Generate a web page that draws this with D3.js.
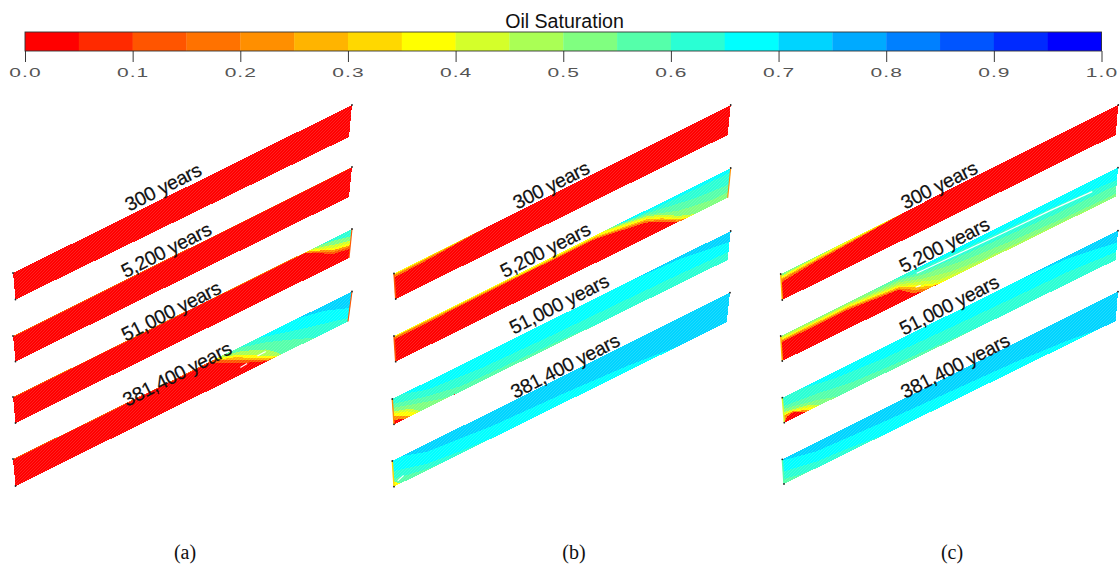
<!DOCTYPE html>
<html><head><meta charset="utf-8">
<style>html,body{margin:0;padding:0;background:#fff}svg{display:block}</style>
<script src="https://cdn.jsdelivr.net/npm/d3@7"></script></head><body>
<svg id="c" width="1120" height="566"></svg>
<script>
const legendTitle = "Oil Saturation";
const bandColors = ["#ff0000","#ff2a00","#ff5500","#ff7200","#ff8f00","#ffb400","#ffd800","#ffff00","#d4ff2a","#aaff55","#80ff80","#55ffaa","#2affd4","#00ffff","#00d4ff","#00aaff","#0080ff","#0055ff","#002aff","#0000ff"];
const legendTicks = [0,0.1,0.2,0.3,0.4,0.5,0.6,0.7,0.8,0.9,1];
const panelNames = ["(a)","(b)","(c)"];
const times = ["300 years","5,200 years","51,000 years","381,400 years"];

// Oil saturation fields: [saturation, [[position along strip, depth across strip], ...]]
const a1 = [[.025,[[0,0],[1,0]]]];
const a2 = [[.125,[[0,0],[1,0]]],[.025,[[0,.03],[1,.02]]]];
const a3 = [[.625,[[0,0],[1,0]]],
 [.525,[[0,0],[.9,0],[.95,.1],[1,.25]]],
 [.425,[[0,0],[.88,0],[.91,.1],[.95,.25],[1,.4]]],
 [.375,[[0,0],[.875,0],[.91,.17],[.95,.36],[1,.48]]],
 [.225,[[0,0],[.865,0],[.91,.22],[.95,.43],[1,.56]]],
 [.125,[[0,0],[.86,.02],[.91,.27],[.95,.5],[1,.62]]],
 [.025,[[0,.03],[.86,.03],[.91,.32],[.95,.58],[1,.68]]]];
const a4 = [[.725,[[0,0],[1,0]]],
 [.675,[[0,0],[.84,0],[.92,.2],[1,.55]]],
 [.625,[[0,0],[.72,0],[.85,.43],[1,.88]]],
 [.575,[[0,0],[.66,0],[.75,.3],[.85,.75],[.9,1],[1,1]]],
 [.475,[[0,0],[.62,0],[.68,.2],[.75,.55],[.78,.8],[.8,1],[1,1]]],
 [.375,[[0,0],[.6,0],[.66,.22],[.72,.58],[.77,.9],[.79,1],[1,1]]],
 [.275,[[0,0],[.59,0],[.66,.3],[.72,.68],[.77,.95],[.785,1],[1,1]]],
 [.125,[[0,0],[.59,0],[.66,.4],[.72,.75],[.77,1],[1,1]]],
 [.025,[[0,.03],[.58,.03],[.66,.5],[.72,.82],[.76,1],[1,1]]]];
const b1 = [[.375,[[0,0],[1,0]]],
 [.275,[[0,.04],[.1,.03],[.2,.01],[.25,0],[1,0]]],
 [.175,[[0,.08],[.12,.06],[.25,0],[1,0]]],
 [.025,[[0,.16],[.1,.12],[.25,.02],[.28,0],[1,0]]]];
const b2 = [[.675,[[0,0],[1,0]]],
 [.625,[[0,0],[.6,0],[.8,.1],[1,.15]]],
 [.575,[[0,0],[.66,0],[.75,.12],[.9,.45],[1,.55]]],
 [.525,[[0,0],[.65,0],[.75,.17],[.85,.6],[.95,.8],[1,.8]]],
 [.425,[[0,0],[.63,0],[.75,.22],[.8,.45],[.85,.78],[.9,1],[1,1]]],
 [.375,[[0,0],[.62,0],[.75,.28],[.8,.53],[.85,.85],[.885,1],[1,1]]],
 [.275,[[0,.03],[.6,.05],[.75,.33],[.8,.58],[.85,.9],[.875,1],[1,1]]],
 [.175,[[0,.06],[.6,.09],[.75,.38],[.8,.64],[.85,.94],[.87,1],[1,1]]],
 [.025,[[0,.14],[.3,.1],[.6,.13],[.75,.44],[.8,.7],[.85,.98],[.86,1],[1,1]]]];
const b3 = [[.725,[[0,0],[1,0]]],
 [.675,[[0,0],[.7,0],[.85,.1],[1,.38]]],
 [.625,[[0,0],[.03,0],[.1,.3],[.26,.5],[.46,.58],[.7,.62],[.85,.65],[1,.72]]],
 [.575,[[0,.2],[.1,.55],[.2,.8],[.3,.85],[.5,.92],[.6,1],[1,1]]],
 [.525,[[0,.35],[.06,.6],[.15,.95],[.18,1],[1,1]]],
 [.425,[[0,.5],[.05,.7],[.08,1],[1,1]]],
 [.375,[[0,.58],[.04,.75],[.07,1],[1,1]]],
 [.225,[[0,.68],[.03,.85],[.05,1],[1,1]]],
 [.025,[[0,.85],[.02,.92],[.035,1],[1,1]]]];
const b4 = [[.725,[[0,0],[1,0]]],
 [.675,[[0,0],[.03,0],[.1,.3],[.3,.55],[.5,.65],[.7,.8],[.85,1],[1,1]]],
 [.625,[[0,.4],[.1,.75],[.2,.9],[.3,1],[1,1]]],
 [.575,[[0,.7],[.1,.95],[.15,1],[1,1]]],
 [.375,[[0,.8],[.02,1],[1,1]]]];
const c1 = [[.525,[[0,0],[1,0]]],
 [.425,[[0,.08],[.1,.03],[.2,0],[1,0]]],
 [.375,[[0,.12],[.1,.07],[.2,.03],[.3,0],[1,0]]],
 [.275,[[0,.18],[.1,.11],[.2,.07],[.33,.01],[.36,0],[1,0]]],
 [.175,[[0,.22],[.1,.15],[.2,.1],[.35,.02],[.38,0],[1,0]]],
 [.025,[[0,.32],[.1,.2],[.2,.14],[.38,0],[1,0]]]];
const c2 = [[.675,[[0,0],[1,0]]],
 [.625,[[0,0],[.38,0],[.45,.1],[.6,.18],[.8,.25],[.93,.35],[1,.42]]],
 [.575,[[0,0],[.33,0],[.42,.25],[.6,.42],[.8,.55],[1,.6]]],
 [.525,[[0,0],[.25,0],[.35,.12],[.42,.35],[.55,.6],[.7,.75],[.85,.85],[1,.9]]],
 [.475,[[0,.03],[.2,.04],[.35,.2],[.42,.5],[.5,.75],[.6,.9],[.8,.95],[1,1]]],
 [.425,[[0,.07],[.2,.08],[.35,.28],[.42,.6],[.47,.85],[.55,.95],[.7,1],[1,1]]],
 [.375,[[0,.11],[.2,.13],[.35,.33],[.41,.68],[.46,.92],[.5,1],[1,1]]],
 [.275,[[0,.15],[.2,.18],[.35,.38],[.41,.75],[.45,.95],[.47,1],[1,1]]],
 [.175,[[0,.2],[.2,.22],[.35,.43],[.4,.8],[.44,.98],[.45,1],[1,1]]],
 [.025,[[0,.26],[.2,.28],[.35,.48],[.39,.85],[.42,1],[1,1]]]];
const c3 = [[.725,[[0,0],[1,0]]],
 [.675,[[0,0],[.7,0],[.85,.1],[1,.4]]],
 [.625,[[0,0],[.05,0],[.15,.25],[.3,.42],[.5,.5],[.7,.55],[.85,.58],[1,.72]]],
 [.575,[[0,.35],[.1,.5],[.2,.72],[.35,.85],[.5,.95],[.6,1],[1,1]]],
 [.525,[[0,.45],[.05,.6],[.1,.75],[.16,1],[1,1]]],
 [.425,[[0,.58],[.04,.68],[.08,.8],[.11,1],[1,1]]],
 [.375,[[0,.65],[.03,.7],[.07,.85],[.095,1],[1,1]]],
 [.225,[[0,.72],[.03,.72],[.06,.9],[.08,1],[1,1]]],
 [.025,[[0,.98],[.01,.82],[.03,.75],[.05,.9],[.065,1],[1,1]]]];
const c4 = [[.725,[[0,0],[1,0]]],
 [.675,[[0,.05],[.1,.35],[.3,.5],[.5,.6],[.7,.7],[.85,.85],[.95,1],[1,1]]],
 [.625,[[0,.5],[.1,.75],[.2,.85],[.3,1],[1,1]]],
 [.575,[[0,.8],[.05,.95],[.1,1],[1,1]]]];

const fields = [a1,a2,a3,a4,b1,b2,b3,b4,c1,c2,c3,c4];
// end-cell saturation on the left / right edge of each strip
const leftEdge  = [null,null,null,null,.125,.125,.225,.325,.275,.275,.425,.575];
const rightEdge = [null,null,.125,.125,null,.225,null,null,null,null,null,null];
// strip corners: top-left, top-right, bottom-right, bottom-left
const corners = [
 [[13,273],[352,105],[349,137],[15.5,299.5]],
 [[13,336],[352,167],[349,197],[15.5,361.5]],
 [[13,397],[352,229],[349,258],[15.5,423]],
 [[13,459],[352,291.5],[348,321.5],[15.5,486]],
 [[394,273.5],[730.7,105],[727.7,135],[395.7,299]],
 [[394,336],[730.7,168],[727.7,197.7],[395.7,361.7]],
 [[392.3,399],[730.7,231],[727.7,260],[394,424.3]],
 [[392.3,461],[730,292.7],[726.7,322.3],[394,486.7]],
 [[780.7,274],[1118.3,105],[1115.7,135],[782.3,300]],
 [[780.7,336],[1118,167.7],[1115.7,196.7],[782.3,361]],
 [[782.3,397.7],[1118,230.7],[1115.7,260],[784.3,422.7]],
 [[782.3,459.3],[1118,291.7],[1115.7,321],[784,484]]];
const labelCenters = [[163,187],[166,250],[171,311],[177,374],[551,185],[545,250],[559,304],[565,366],[939,185],[944,245],[949,305],[955,366]];
const gaps = [
 {strip:3,pts:[[.675,.74],[.695,.72]]},
 {strip:3,pts:[[.725,.63],[.75,.62]]},
 {strip:9,pts:[[.403,.19],[.5,.23],[.66,.29],[.8,.33],[.926,.4]]},
 {strip:9,pts:[[.4,.7],[.415,.72]]},
 {strip:7,pts:[[.012,.85],[.03,.75]]}];
const captionX = [185,574,952];

const svg = d3.select("#c");
const defs = svg.append("defs");
const hatch = defs.append("pattern").attr("id","mesh").attr("patternUnits","userSpaceOnUse")
  .attr("width",3).attr("height",3);
hatch.selectAll("rect").data([0,1,2]).join("rect")
  .attr("x",d=>d).attr("y",d=>2-d).attr("width",1).attr("height",1)
  .attr("fill","#fff").attr("opacity",.13).attr("shape-rendering","crispEdges");

// legend
const sx = d3.scaleLinear().domain([0,1]).range([25,1101.5]);
const color = d3.scaleQuantize().domain([0,1]).range(bandColors);
svg.append("g").selectAll("rect").data(bandColors).join("rect")
  .attr("x",(d,i)=>sx(i/20)).attr("width",(d,i)=>sx((i+1)/20)-sx(i/20)+.3)
  .attr("y",32).attr("height",19).attr("fill",d=>d);
svg.append("rect").attr("x",sx(0)).attr("y",32).attr("width",sx(1)-sx(0)).attr("height",19)
  .attr("fill","none").attr("stroke","#333").attr("stroke-width",.9);
const ax = svg.append("g").attr("transform","translate(0,51)")
  .call(d3.axisBottom(sx).tickValues(legendTicks).tickSize(11).tickFormat(d3.format(".1f")));
ax.select(".domain").remove();
ax.selectAll("line").attr("stroke","#222").attr("stroke-width",.9);
ax.selectAll("text").attr("y",0).attr("dy",0)
  .attr("font-family","Liberation Sans").attr("font-size",12).attr("fill","#555")
  .attr("letter-spacing",.6)
  .attr("transform","translate(0,25.7) scale(1.75,1)");
svg.append("text").attr("x",564.5).attr("y",27.5).attr("text-anchor","middle")
  .attr("font-family","Liberation Sans").attr("font-size",19.6).attr("fill","#111").text(legendTitle);

// strips
const line = d3.line().x(d=>d[0]).y(d=>d[1]);
fields.forEach((layers,k)=>{
  const [tl,tr,br,bl] = corners[k];
  const topX = d3.scaleLinear().range([tl[0],tr[0]]), topY = d3.scaleLinear().range([tl[1],tr[1]]);
  const botX = d3.scaleLinear().range([bl[0],br[0]]), botY = d3.scaleLinear().range([bl[1],br[1]]);
  const P = ([t,d]) => [d3.interpolateNumber(topX(t),botX(t))(d), d3.interpolateNumber(topY(t),botY(t))(d)];
  const g = svg.append("g");
  g.selectAll("path.band").data(layers).join("path").attr("class","band")
    .attr("fill",d=>color(d[0])).attr("shape-rendering","crispEdges")
    .attr("d",d=>line([...d[1],[1,1],[0,1]].map(P))+"Z");
  g.append("path").attr("d",line([[0,0],[1,0],[1,1],[0,1]].map(P))+"Z").attr("fill","url(#mesh)").attr("shape-rendering","crispEdges");
  if(leftEdge[k]!=null) g.append("path").attr("d",line([[0,0],[0,1]].map(P))).attr("stroke",color(leftEdge[k])).attr("stroke-width",1.4).attr("fill","none");
  if(rightEdge[k]!=null) g.append("path").attr("d",line([[1,0],[1,1]].map(P))).attr("stroke",color(rightEdge[k])).attr("stroke-width",1.1).attr("fill","none");
  gaps.filter(e=>e.strip===k).forEach(e=>g.append("path").attr("d",line(e.pts.map(P))).attr("stroke","#fff").attr("stroke-width",1.2).attr("fill","none"));
  g.selectAll("circle").data([[0,0],[1,0],[0,1]]).join("circle")
    .attr("cx",d=>P(d)[0]).attr("cy",d=>P(d)[1]).attr("r",.9).attr("fill","#222");
  const lc = labelCenters[k];
  svg.append("text").attr("transform",`translate(${lc[0]},${lc[1]}) rotate(-27)`)
    .attr("text-anchor","middle").attr("dy",".35em")
    .attr("font-family","Liberation Sans").attr("font-size",19.5).attr("letter-spacing",-.35)
    .attr("fill","#111").attr("stroke","#111").attr("stroke-width",.2).text(times[k%4]);
});
svg.append("g").selectAll("text").data(panelNames).join("text")
  .attr("x",(d,i)=>captionX[i]).attr("y",559).attr("text-anchor","middle")
  .attr("font-family","Liberation Serif").attr("font-size",20).attr("fill","#111").text(d=>d);
</script></body></html>
